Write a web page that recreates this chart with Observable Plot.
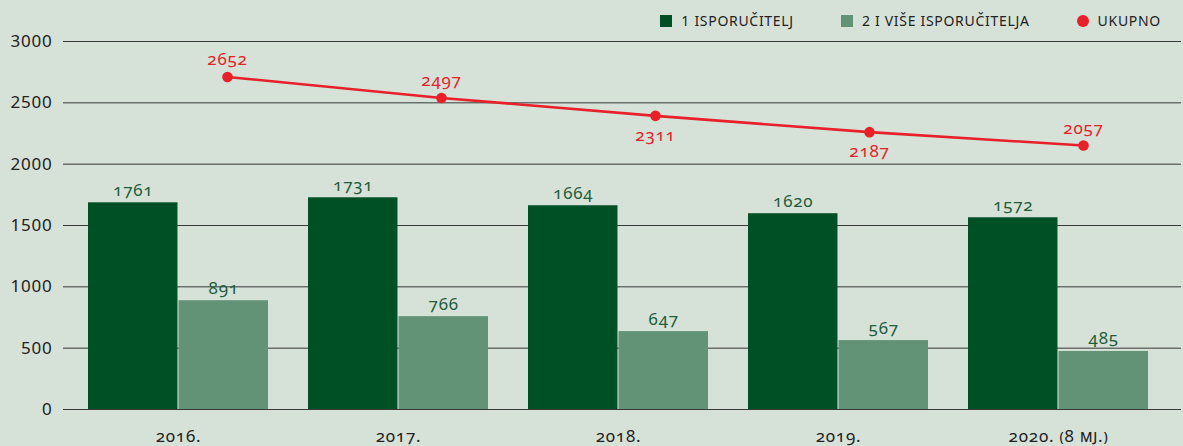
<!DOCTYPE html>
<html>
<head>
<meta charset="utf-8">
<script src="https://cdn.jsdelivr.net/npm/d3@7"></script>
<script src="https://cdn.jsdelivr.net/npm/@observablehq/plot@0.6"></script>
<style>
  html, body { margin: 0; padding: 0; background: #d6e1d8; }
  #wrap { position: relative; width: 1183px; height: 446px; font-family: "Noto Sans", sans-serif; }
  #wrap svg { position: absolute; left: 0; top: 0; font-variant-numeric: oldstyle-nums; letter-spacing: 0.8px; }
  #wrap svg [aria-label="x-axis tick label"] { font-variant: small-caps; font-variant-numeric: oldstyle-nums; }
  #legend { position: absolute; top: 11px; right: 22px; display: flex; align-items: center; gap: 47px;
            font-size: 14px; letter-spacing: 0.7px; color: #222; }
  #legend .item { display: flex; align-items: center; gap: 9px; }
  #legend .sw { width: 12px; height: 12px; }
  #legend .dot { width: 12px; height: 12px; border-radius: 50%; }
</style>
</head>
<body>
<div id="wrap"><div id="legend"></div></div>
<script>
// ---- data ----
const years = ["2016.", "2017.", "2018.", "2019.", "2020. (8 mj.)"];
const seriesNames = ["1 ISPORUČITELJ", "2 I VIŠE ISPORUČITELJA", "UKUPNO"];
// bar heights as drawn in the picture, with the printed labels
const oneSupplier = [1685, 1726, 1661, 1596, 1563];
const oneSupplierLabels = ["1761", "1731", "1664", "1620", "1572"];
const twoPlus = [887, 757, 635, 562, 473];
const twoPlusLabels = ["891", "766", "647", "567", "485"];
const total = [2711, 2540, 2394, 2261, 2152];
const totalLabels = ["2652", "2497", "2311", "2187", "2057"];
const yTicks = [0, 500, 1000, 1500, 2000, 2500, 3000];

// ---- styles ----
const C_DARK = "#005026", C_LIGHT = "#629376", C_RED = "#e8202a", C_LBL = "#1e5e3a";
const W = 1183, H = 446, MT = 41, MB = 37, ML = 63, MR = 2;
const PI = 0.18, PO = 0.1217, ALIGN = 0.436;
const step = (W - ML - MR) / (years.length - PI + 2 * PO);
const bw = step * (1 - PI);
const FS = 17;

const rows1 = years.map((y, i) => ({year: y, value: oneSupplier[i], label: oneSupplierLabels[i]}));
const rows2 = years.map((y, i) => ({year: y, value: twoPlus[i], label: twoPlusLabels[i]}));
const rows3 = years.map((y, i) => ({year: y, value: total[i], label: totalLabels[i]}));

const font = {background: "transparent", fontFamily: "Noto Sans, sans-serif", fontSize: FS + "px", color: "#222"};

const plotA = Plot.plot({
  width: W, height: H, marginTop: MT, marginBottom: MB, marginLeft: ML, marginRight: MR,
  style: font,
  x: {domain: years, paddingInner: PI, paddingOuter: PO, align: ALIGN, label: null, tickSize: 0, tickPadding: 20},
  y: {domain: [0, 3000], ticks: yTicks, label: null, tickSize: 0, tickPadding: 11, tickFormat: d => String(d)},
  marks: [
    Plot.ruleY(yTicks, {stroke: "#383838", strokeWidth: 1}),
    Plot.barY(rows1, {x: "year", y: "value", fill: C_DARK, insetRight: bw / 2}),
    Plot.barY(rows2, {x: "year", y: "value", fill: C_LIGHT, insetLeft: bw / 2}),
    Plot.text(rows1, {x: "year", y: "value", text: "label", dx: -bw / 4, dy: -7, lineAnchor: "bottom", fill: C_LBL, fontSize: FS}),
    Plot.text(rows2, {x: "year", y: "value", text: "label", dx: bw / 4, dy: -7, lineAnchor: "bottom", fill: C_LBL, fontSize: FS})
  ]
});

const below = new Set(["2018.", "2019."]);
const plotB = Plot.plot({
  width: W, height: H, marginTop: MT, marginBottom: MB, marginLeft: 226, marginRight: 99,
  style: font,
  x: {domain: years, type: "point", padding: 0, axis: null},
  y: {domain: [0, 3000], axis: null},
  marks: [
    Plot.line(rows3, {x: "year", y: "value", stroke: C_RED, strokeWidth: 2.6}),
    Plot.dot(rows3, {x: "year", y: "value", r: 5.3, fill: C_RED}),
    Plot.text(rows3.filter(d => !below.has(d.year)), {x: "year", y: "value", text: "label", dy: -12, lineAnchor: "bottom", fill: C_RED, fontSize: FS}),
    Plot.text(rows3.filter(d => below.has(d.year)), {x: "year", y: "value", text: "label", dy: 13, lineAnchor: "top", fill: C_RED, fontSize: FS})
  ]
});

const wrap = document.getElementById("wrap");
wrap.insertBefore(plotA, wrap.firstChild);
wrap.insertBefore(plotB, document.getElementById("legend"));

// legend
const legend = document.getElementById("legend");
const swatches = [{cls: "sw", color: C_DARK}, {cls: "sw", color: C_LIGHT}, {cls: "dot", color: C_RED}];
seriesNames.forEach((name, i) => {
  const item = document.createElement("div");
  item.className = "item";
  const s = document.createElement("span");
  s.className = swatches[i].cls;
  s.style.background = swatches[i].color;
  const t = document.createElement("span");
  t.textContent = name;
  item.append(s, t);
  legend.append(item);
});
</script>
</body>
</html>
